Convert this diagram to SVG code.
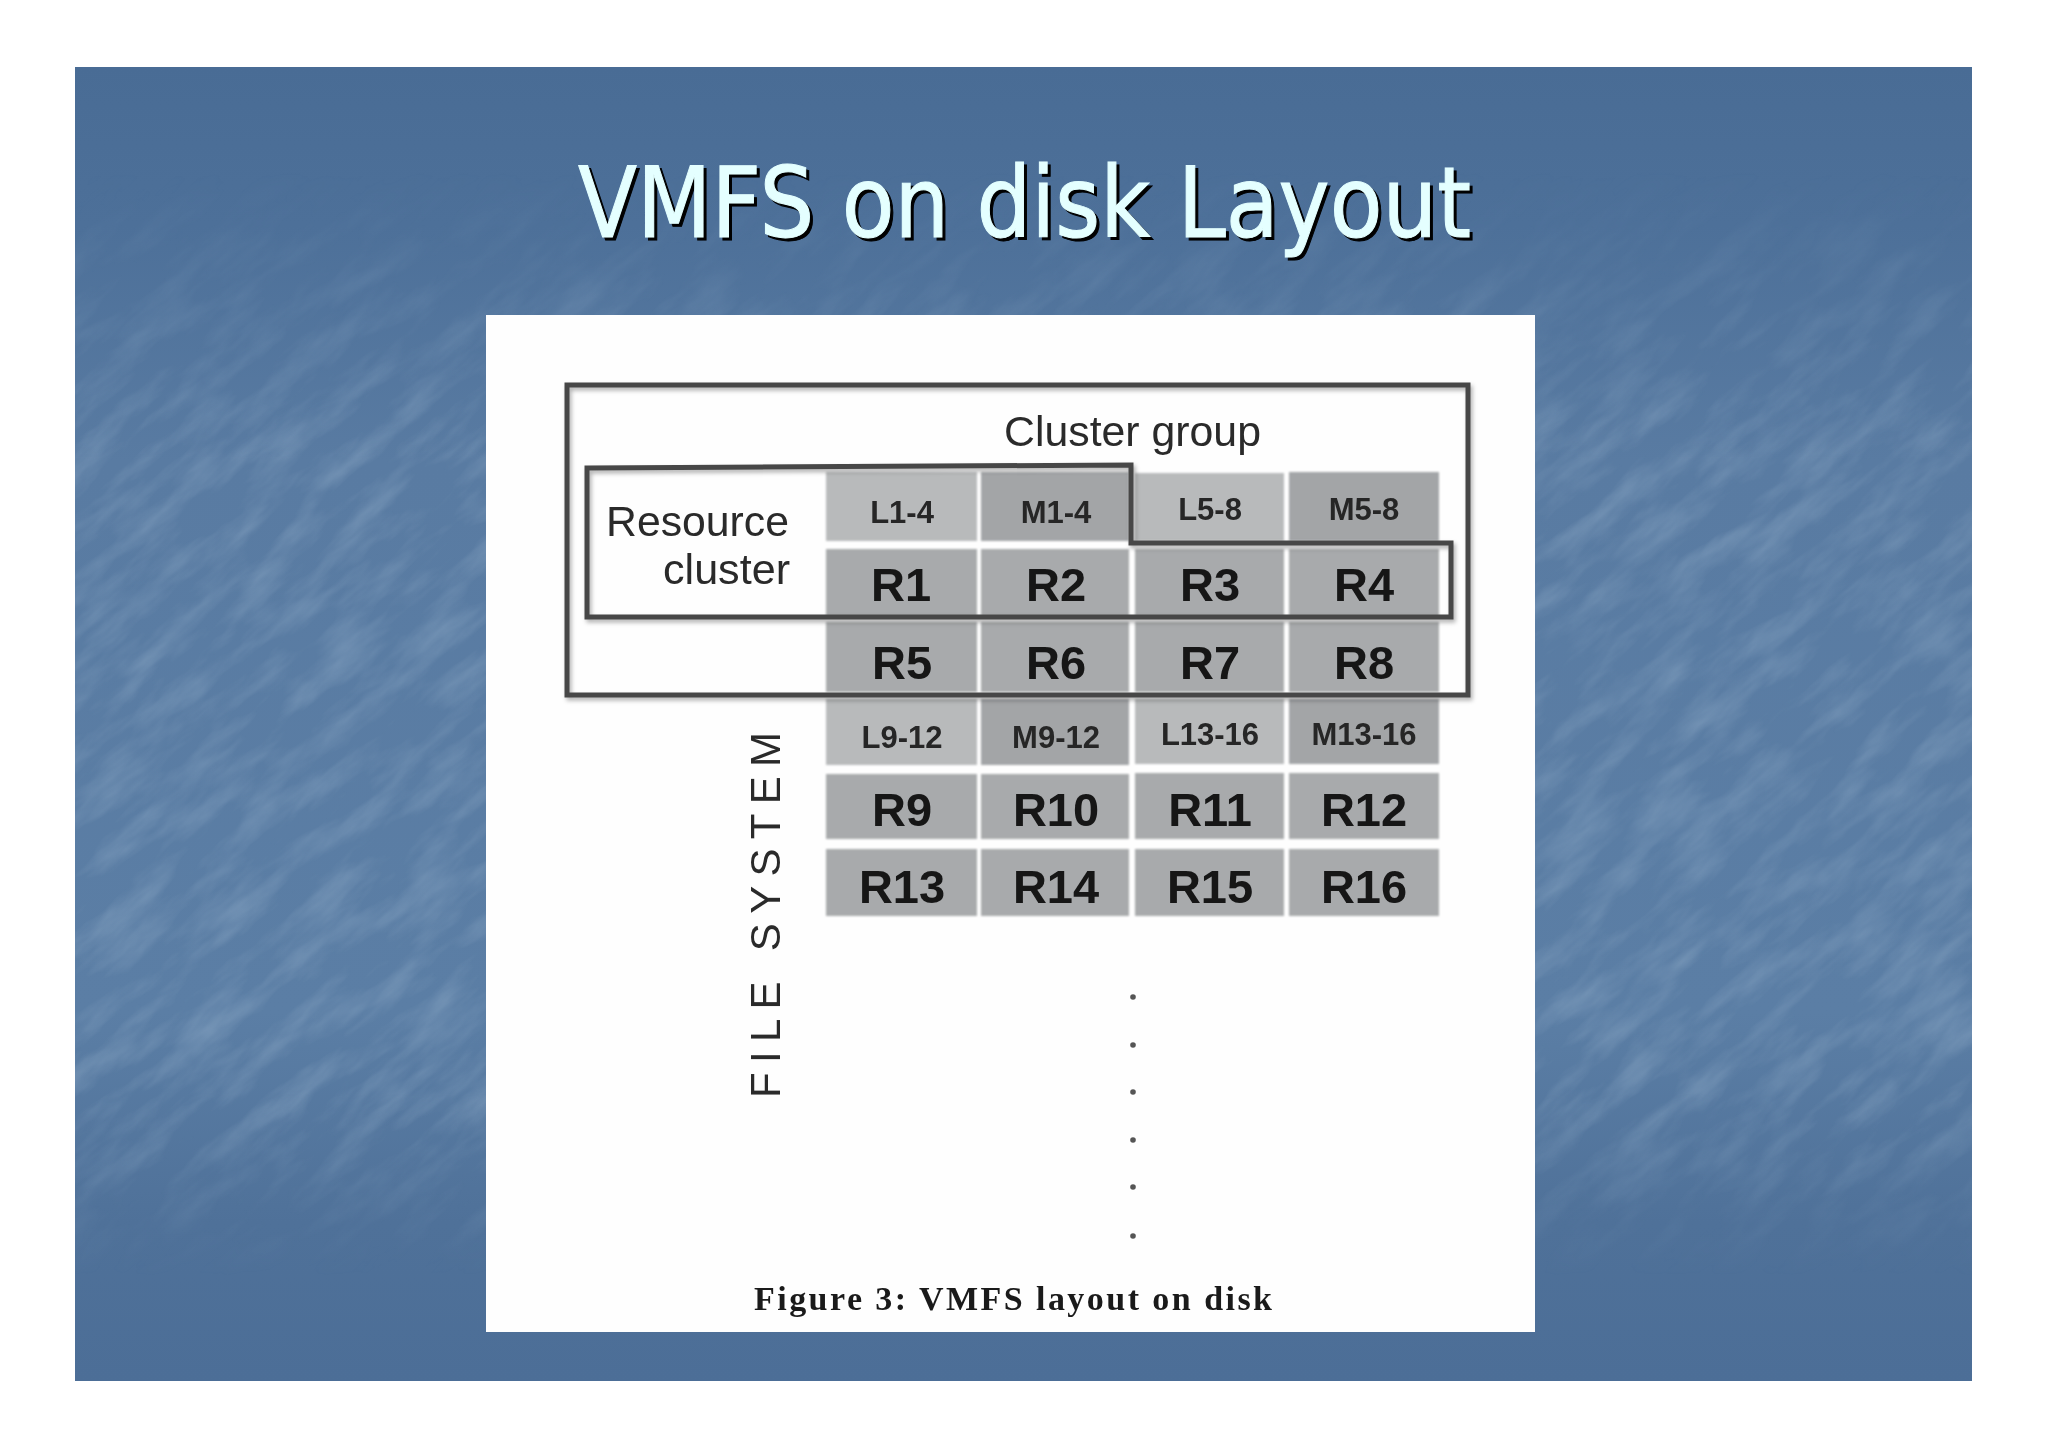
<svg xmlns="http://www.w3.org/2000/svg" width="2048" height="1447" viewBox="0 0 2048 1447">
<style>
.c{stroke:none}
.l{fill:#b8babb}
.m{fill:#a3a5a7}
.r{fill:#a8aaac}
.big{font:bold 47px "Liberation Sans",Arial,sans-serif;fill:#141414;text-anchor:middle}
.small{font:bold 31px "Liberation Sans",Arial,sans-serif;fill:#262626;text-anchor:middle}
.lab{font:43px "Liberation Sans",Arial,sans-serif;fill:#2b2b2b}
.box{fill:none;stroke:#474747;stroke-width:5;stroke-linejoin:miter}
</style>
<defs>
<linearGradient id="bg" x1="0" y1="0" x2="0" y2="1">
<stop offset="0" stop-color="#496c95"/>
<stop offset="0.12" stop-color="#4d7099"/>
<stop offset="0.3" stop-color="#597ba2"/>
<stop offset="0.72" stop-color="#5b7ea5"/>
<stop offset="0.88" stop-color="#4f7199"/>
<stop offset="1" stop-color="#4c6e97"/>
</linearGradient>
<linearGradient id="tm" x1="0" y1="0" x2="0" y2="1">
<stop offset="0.08" stop-color="#000"/>
<stop offset="0.3" stop-color="#fff"/>
<stop offset="0.78" stop-color="#fff"/>
<stop offset="0.92" stop-color="#000"/>
</linearGradient>
<mask id="texm" maskUnits="userSpaceOnUse" x="75" y="67" width="1897" height="1314"><rect x="75" y="67" width="1897" height="1314" fill="url(#tm)"/></mask>
<filter id="tex" x="0" y="0" width="100%" height="100%" color-interpolation-filters="sRGB">
<feTurbulence type="fractalNoise" baseFrequency="0.012 0.04" numOctaves="4" seed="11"/>
<feColorMatrix type="matrix" values="0 0 0 0 0.56  0 0 0 0 0.67  0 0 0 0 0.78  0.9 0 0 0 -0.36"/>
</filter>
<filter id="sh" x="-5%" y="-5%" width="110%" height="110%" color-interpolation-filters="sRGB">
<feDropShadow dx="2" dy="3" stdDeviation="2" flood-color="#000" flood-opacity="0.3"/>
</filter>
<filter id="soft" x="-5%" y="-5%" width="110%" height="110%"><feGaussianBlur stdDeviation="0.9"/></filter>
<filter id="tsoft" x="-5%" y="-5%" width="110%" height="110%"><feGaussianBlur stdDeviation="0.45"/></filter>
<filter id="ts" x="-5%" y="-10%" width="110%" height="120%" color-interpolation-filters="sRGB">
<feDropShadow dx="3" dy="3" stdDeviation="0" flood-color="#000" flood-opacity="1"/>
</filter>
</defs>
<rect width="2048" height="1447" fill="#fff"/>
<g id="slide">
<rect x="75" y="67" width="1897" height="1314" fill="url(#bg)"/>
<g mask="url(#texm)"><g transform="rotate(-40 1024 723)"><rect x="-300" y="-500" width="2650" height="2450" filter="url(#tex)"/></g></g>
</g>
<g id="frame-mask">
<rect x="0" y="0" width="2048" height="67" fill="#fff"/>
<rect x="0" y="1381" width="2048" height="66" fill="#fff"/>
<rect x="0" y="0" width="75" height="1447" fill="#fff"/>
<rect x="1972" y="0" width="76" height="1447" fill="#fff"/>
</g>
<text id="title" x="578" y="237" textLength="893" lengthAdjust="spacingAndGlyphs" font-family="'DejaVu Sans Condensed','DejaVu Sans',sans-serif" font-size="98" fill="#e4ffff" stroke="#e4ffff" stroke-width="1" filter="url(#ts)">VMFS on disk Layout</text>
<rect id="panel" x="486" y="315" width="1049" height="1017" fill="#fefefe"/>
<g id="cells" filter="url(#soft)">
<g id="n-L1-4"><rect class="c l" x="826" y="472" width="151" height="69"/></g>
<g id="n-M1-4"><rect class="c m" x="981" y="472" width="148" height="69"/></g>
<g id="n-L5-8"><rect class="c l" x="1135" y="473" width="149" height="68"/></g>
<g id="n-M5-8"><rect class="c m" x="1289" y="472" width="150" height="69"/></g>
<g id="n-R1"><rect class="c r" x="826" y="549" width="151" height="67"/></g>
<g id="n-R2"><rect class="c r" x="981" y="549" width="148" height="67"/></g>
<g id="n-R3"><rect class="c r" x="1135" y="549" width="149" height="67"/></g>
<g id="n-R4"><rect class="c r" x="1289" y="549" width="150" height="67"/></g>
<g id="n-R5"><rect class="c r" x="826" y="622" width="151" height="70"/></g>
<g id="n-R6"><rect class="c r" x="981" y="622" width="148" height="70"/></g>
<g id="n-R7"><rect class="c r" x="1135" y="622" width="149" height="70"/></g>
<g id="n-R8"><rect class="c r" x="1289" y="622" width="150" height="70"/></g>
<g id="n-L9-12"><rect class="c l" x="826" y="699" width="151" height="66"/></g>
<g id="n-M9-12"><rect class="c m" x="981" y="699" width="148" height="66"/></g>
<g id="n-L13-16"><rect class="c l" x="1135" y="699" width="149" height="65"/></g>
<g id="n-M13-16"><rect class="c m" x="1289" y="699" width="150" height="65"/></g>
<g id="n-R9"><rect class="c r" x="826" y="774" width="151" height="65"/></g>
<g id="n-R10"><rect class="c r" x="981" y="774" width="148" height="65"/></g>
<g id="n-R11"><rect class="c r" x="1135" y="773" width="149" height="66"/></g>
<g id="n-R12"><rect class="c r" x="1289" y="773" width="150" height="66"/></g>
<g id="n-R13"><rect class="c r" x="826" y="849" width="151" height="67"/></g>
<g id="n-R14"><rect class="c r" x="981" y="849" width="148" height="67"/></g>
<g id="n-R15"><rect class="c r" x="1135" y="849" width="149" height="67"/></g>
<g id="n-R16"><rect class="c r" x="1289" y="849" width="150" height="67"/></g>
</g>
<g id="cell-labels" filter="url(#tsoft)">
<text class="small" x="902" y="523">L1-4</text>
<text class="small" x="1056" y="523">M1-4</text>
<text class="small" x="1210" y="520">L5-8</text>
<text class="small" x="1364" y="520">M5-8</text>
<text class="big" x="901" y="601">R1</text>
<text class="big" x="1056" y="601">R2</text>
<text class="big" x="1210" y="601">R3</text>
<text class="big" x="1364" y="601">R4</text>
<text class="big" x="902" y="679">R5</text>
<text class="big" x="1056" y="679">R6</text>
<text class="big" x="1210" y="679">R7</text>
<text class="big" x="1364" y="679">R8</text>
<text class="small" x="902" y="748">L9-12</text>
<text class="small" x="1056" y="748">M9-12</text>
<text class="small" x="1210" y="745">L13-16</text>
<text class="small" x="1364" y="745">M13-16</text>
<text class="big" x="902" y="826">R9</text>
<text class="big" x="1056" y="826">R10</text>
<text class="big" x="1210" y="826">R11</text>
<text class="big" x="1364" y="826">R12</text>
<text class="big" x="902" y="903">R13</text>
<text class="big" x="1056" y="903">R14</text>
<text class="big" x="1210" y="903">R15</text>
<text class="big" x="1364" y="903">R16</text>
</g>
<g id="connectors" filter="url(#sh)">
<rect id="cluster-group" class="box" x="567" y="385" width="901" height="310"/>
<path id="resource-cluster" class="box" d="M587 468L1131 465V543H1451V617H587Z"/>
</g>
<g id="labels" filter="url(#tsoft)">
<text class="lab" x="1004" y="446" textLength="257" lengthAdjust="spacingAndGlyphs">Cluster group</text>
<text class="lab" x="606" y="536" textLength="183" lengthAdjust="spacingAndGlyphs">Resource</text>
<text class="lab" x="663" y="584" textLength="127" lengthAdjust="spacingAndGlyphs">cluster</text>
<text transform="translate(780 1098) rotate(-90)" textLength="366" font-family="'Liberation Sans',Arial,sans-serif" font-size="42" fill="#2b2b2b">FILE SYSTEM</text>
</g>
<g id="dots" fill="#555">
<circle cx="1133" cy="997" r="2.8"/>
<circle cx="1133" cy="1045" r="2.8"/>
<circle cx="1133" cy="1092" r="2.8"/>
<circle cx="1133" cy="1140" r="2.8"/>
<circle cx="1133" cy="1187" r="2.8"/>
<circle cx="1133" cy="1236" r="2.8"/>
</g>
<text id="caption" x="754" y="1310" textLength="518" font-family="'Liberation Serif','Times New Roman',serif" font-weight="bold" font-size="34" fill="#1a1a1a">Figure 3: VMFS layout on disk</text>
</svg>
